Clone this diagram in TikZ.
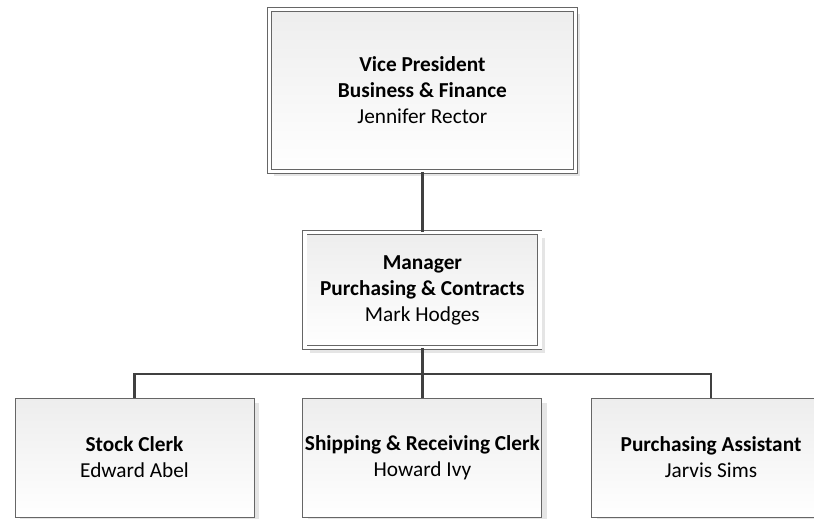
\documentclass[tikz,border=0pt]{standalone}
\usepackage{fontspec}
\setmainfont{Carlito}
\usetikzlibrary{shadows}
\begin{document}
\begin{tikzpicture}
    [
        x = 1pt, y = -1pt,
        card/.style = {draw = black!60, line width = 0.9pt, top color = black!7, bottom color = white,
            inner sep = 0pt, align = center, font = \fontsize{21.3}{26}\selectfont,
            drop shadow = {shadow xshift = 5pt, shadow yshift = -5pt, fill = black!10, opacity = 1}},
        headcard/.style = {card, double = white, double distance = 3.2pt},
        link/.style = {draw = black!75, line width = 2.8pt}
    ]

        \clip (0,0) rectangle (814,519);

        \node[headcard, minimum width = 306pt, minimum height = 162pt] (vp) at (422.4,90.4)
            {\textbf{Vice President}\\ \textbf{Business \& Finance}\\ Jennifer Rector};
        \node[headcard, minimum width = 235pt, minimum height = 115pt] (mgr) at (422.4,290.3)
            {\textbf{Manager}\\ \textbf{Purchasing \& Contracts}\\ Mark Hodges};

        \node[card, minimum width = 239pt, minimum height = 119pt] (stock) at (134.5,457.5)
            {\textbf{Stock Clerk}\\ Edward Abel};
        \node[card, minimum width = 239pt, minimum height = 119pt] (ship) at (422.4,457.5)
            {\textbf{Shipping \& Receiving Clerk}\\ Howard Ivy};
        \node[card, minimum width = 239pt, minimum height = 119pt] (assist) at (711,457.5)
            {\textbf{Purchasing Assistant}\\ Jarvis Sims};

        \coordinate (bus) at (422.4,374);

        \draw[link] (vp) -- (mgr);
        \draw[link] (mgr.south) -- (bus);
        \draw[link] (bus) -| (stock.north);
        \draw[link] (bus) -- (ship.north);
        \draw[link] (bus) -| (assist.north);
    \end{tikzpicture}
\end{document}
